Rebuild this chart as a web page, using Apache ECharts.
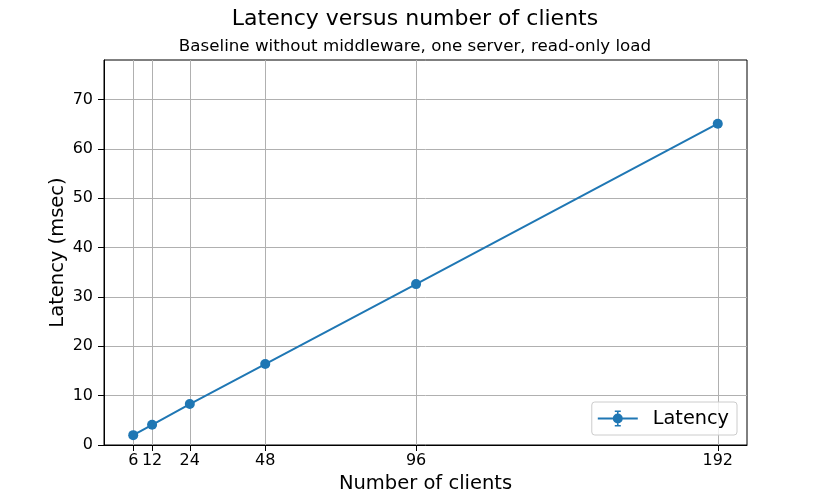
<!DOCTYPE html>
<html>
<head>
<meta charset="utf-8">
<script src="https://cdn.jsdelivr.net/npm/echarts@6/dist/echarts.min.js"></script>
<style>
  html, body { margin: 0; padding: 0; background: #fff; }
  #myChart { width: 830px; height: 500px; }
</style>
</head>
<body>
<div id="myChart"></div>
<script>
// clients on x, mean latency in msec on y
const clients = [6, 12, 24, 48, 96, 192];
const latency = [2.0, 4.1, 8.3, 16.4, 32.6, 65.1];
const yTicks = [0, 10, 20, 30, 40, 50, 60, 70];

const font = 'DejaVu Sans';
const blue = '#1f77b4';
const gridGray = '#b0b0b0';

// legend icon: line + marker + tiny error bar
const legendIcon = 'path://M0,9H40V11H0Z M19.2,2H20.8V18H19.2Z M17,2H23V3.5H17Z M17,16.5H23V18H17Z M20,5A5,5 0 1,1 19.99,5Z';

const myChart = echarts.init(document.getElementById('myChart'));
myChart.setOption({
  animation: false,
  backgroundColor: '#fff',
  textStyle: { fontFamily: font },
  title: [
    {
      text: 'Latency versus number of clients',
      left: 'center',
      top: 3,
      textStyle: { fontFamily: font, fontSize: 22, fontWeight: 'normal', color: '#000' },
    },
    {
      text: 'Baseline without middleware, one server, read-only load',
      left: 'center',
      top: 33,
      textStyle: { fontFamily: font, fontSize: 16.7, fontWeight: 'normal', color: '#000' },
    },
  ],
  grid: {
    left: 104,
    right: 83,
    top: 60,
    bottom: 55,
    show: true,
    borderColor: '#000',
    borderWidth: 1,
    backgroundColor: '#fff',
  },
  legend: {
    data: [{ name: 'Latency', icon: legendIcon }],
    right: 93,
    bottom: 65,
    padding: [7, 8, 7, 6],
    itemWidth: 40,
    itemHeight: 18,
    itemGap: 0,
    backgroundColor: 'rgba(255,255,255,0.8)',
    borderColor: '#cccccc',
    borderWidth: 1,
    borderRadius: 3,
    textStyle: { fontFamily: font, fontSize: 19.3, color: '#000', padding: [0, 0, 0, 10] },
    itemStyle: { color: blue },
  },
  xAxis: {
    type: 'value',
    min: -3.3,
    max: 201.3,
    name: 'Number of clients',
    nameLocation: 'middle',
    nameGap: 29,
    nameTextStyle: { fontFamily: font, fontSize: 19.5, color: '#000' },
    axisLine: { show: true, onZero: false, lineStyle: { color: '#000', width: 1 } },
    axisTick: { show: true, length: 6, customValues: clients, lineStyle: { color: '#000' } },
    axisLabel: { customValues: clients, fontFamily: font, fontSize: 16, color: '#000', margin: 8 },
    splitLine: { show: true, lineStyle: { color: gridGray, width: 1 } },
  },
  yAxis: {
    type: 'value',
    min: 0,
    max: 78,
    interval: 10,
    name: 'Latency (msec)',
    nameLocation: 'middle',
    nameGap: 36,
    nameMoveOverlap: false,
    nameTextStyle: { fontFamily: font, fontSize: 19.5, color: '#000' },
    axisLine: { show: true, onZero: false, lineStyle: { color: '#000', width: 1 } },
    axisTick: { show: true, length: 6, customValues: yTicks, lineStyle: { color: '#000' } },
    axisLabel: { customValues: yTicks, fontFamily: font, fontSize: 16, color: '#000', margin: 11 },
    splitLine: { show: true, lineStyle: { color: gridGray, width: 1 } },
  },
  series: [
    {
      name: 'Latency',
      type: 'line',
      data: clients.map((c, i) => [c, latency[i]]),
      symbol: 'circle',
      symbolSize: 10,
      lineStyle: { color: blue, width: 2 },
      itemStyle: { color: blue },
      z: 5,
    },
  ],
});
</script>
</body>
</html>
